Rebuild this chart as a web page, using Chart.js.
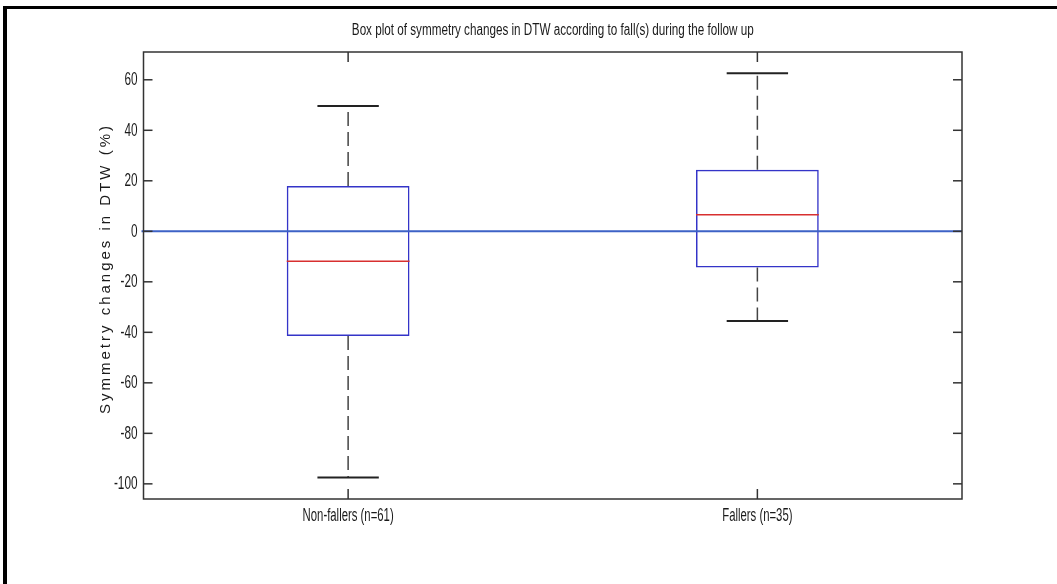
<!DOCTYPE html>
<html>
<head>
<meta charset="utf-8">
<script src="https://cdn.jsdelivr.net/npm/chart.js@4/dist/chart.umd.min.js"></script>
<style>
  body { margin: 0; background: #fff; }
  #wrap { position: relative; width: 1057px; height: 584px; overflow: hidden; }
  #frame {
    position: absolute; left: 3px; top: 6px; width: 1100px; height: 700px;
    border-left: 4px solid #000; border-top: 3px solid #000; pointer-events: none;
  }
</style>
</head>
<body>
<div id="wrap">
  <canvas id="symmetry-box-chart" width="1057" height="584"></canvas>
  <div id="frame"></div>
</div>
<script>
var chartTitle = 'Box plot of symmetry changes in DTW according to fall(s) during the follow up';
var yAxisTitle = 'Symmetry changes in DTW (%)';
var categories = ['Non-fallers (n=61)', 'Fallers (n=35)'];
var lowerWhisker = [-97.5, -35.5];
var lowerQuartile = [-41.5, -14.3];
var medians = [-11.9, 6.6];
var upperQuartile = [17.9, 24.4];
var upperWhisker = [49.6, 62.6];
var yTicks = [-100, -80, -60, -40, -20, 0, 20, 40, 60];

var ctx = document.getElementById('symmetry-box-chart');

function line(c, x1, y1, x2, y2) {
  c.beginPath();
  c.moveTo(x1, y1);
  c.lineTo(x2, y2);
  c.stroke();
}

// matlab export text is tall and narrow, squeeze it horizontally
function narrowText(c, text, x, y, size, align, squeeze) {
  c.save();
  c.font = size + 'px "Liberation Sans", Arial, sans-serif';
  c.textAlign = align;
  c.textBaseline = 'middle';
  c.translate(x, y);
  c.scale(squeeze, 1);
  c.fillText(text, 0, 0);
  c.restore();
}

var boxPlotParts = {
  id: 'boxPlotParts',
  afterDatasetsDraw: function(chart) {
    var c = chart.ctx;
    var area = chart.chartArea;
    var x = chart.scales.x;
    var y = chart.scales.y;
    var boxes = chart.getDatasetMeta(0).data;
    c.save();

    c.strokeStyle = '#3d62c6';
    c.lineWidth = 2;
    line(c, area.left - 2, y.getPixelForValue(0), area.right, y.getPixelForValue(0));

    categories.forEach(function(cat, i) {
      var cx = x.getPixelForValue(i);
      var half = boxes[i].width / 4;

      c.strokeStyle = '#444';
      c.lineWidth = 1.5;
      c.setLineDash([14, 6]);
      line(c, cx, y.getPixelForValue(upperQuartile[i]), cx, y.getPixelForValue(upperWhisker[i]));
      line(c, cx, y.getPixelForValue(lowerQuartile[i]), cx, y.getPixelForValue(lowerWhisker[i]));
      c.setLineDash([]);

      c.strokeStyle = '#222';
      c.lineWidth = 2;
      line(c, cx - half, y.getPixelForValue(upperWhisker[i]), cx + half, y.getPixelForValue(upperWhisker[i]));
      line(c, cx - half, y.getPixelForValue(lowerWhisker[i]), cx + half, y.getPixelForValue(lowerWhisker[i]));

      c.strokeStyle = '#d83030';
      c.lineWidth = 1.5;
      line(c, cx - boxes[i].width / 2, y.getPixelForValue(medians[i]), cx + boxes[i].width / 2, y.getPixelForValue(medians[i]));
    });
    c.restore();
  },
  afterDraw: function(chart) {
    var c = chart.ctx;
    var area = chart.chartArea;
    var x = chart.scales.x;
    var y = chart.scales.y;
    c.save();

    c.strokeStyle = '#333';
    c.lineWidth = 1.5;
    c.strokeRect(area.left, area.top, area.right - area.left, area.bottom - area.top);
    c.fillStyle = '#1a1a1a';
    y.ticks.forEach(function(t) {
      var py = y.getPixelForValue(t.value);
      line(c, area.left, py, area.left + 9, py);
      line(c, area.right - 9, py, area.right, py);
      narrowText(c, String(t.value), area.left - 6, py, 19, 'right', 0.62);
    });
    categories.forEach(function(cat, i) {
      var px = x.getPixelForValue(i);
      line(c, px, area.top, px, area.top + 10);
      line(c, px, area.bottom - 10, px, area.bottom);
      narrowText(c, cat, px, area.bottom + 17, 18, 'center', 0.63);
    });

    narrowText(c, chartTitle, (area.left + area.right) / 2, 31, 16, 'center', 0.73);

    c.font = '15px "Liberation Sans", Arial, sans-serif';
    c.letterSpacing = '3px';
    c.textAlign = 'center';
    c.textBaseline = 'middle';
    c.translate(106, (area.top + area.bottom) / 2 - 7);
    c.rotate(-Math.PI / 2);
    c.fillText(yAxisTitle, 0, 0);
    c.restore();
  }
};

var symmetryBoxChart = new Chart(ctx, {
  type: 'bar',
  data: {
    labels: categories,
    datasets: [
      {
        data: categories.map(function(cat, i) { return [lowerQuartile[i], upperQuartile[i]]; }),
        backgroundColor: 'rgba(0,0,0,0)',
        borderColor: '#3434c8',
        borderWidth: 1.5,
        borderSkipped: false,
        barPercentage: 0.3,
        categoryPercentage: 1
      }
    ]
  },
  options: {
    responsive: false,
    animation: false,
    events: [],
    layout: {
      padding: { left: 0, top: 52, right: 95, bottom: 85 }
    },
    plugins: {
      legend: { display: false },
      tooltip: { enabled: false },
      title: { display: false }
    },
    scales: {
      x: {
        grid: { display: false, drawTicks: false },
        border: { display: false },
        ticks: { display: false }
      },
      y: {
        min: -106,
        max: 71,
        afterBuildTicks: function(scale) {
          scale.ticks = yTicks.map(function(v) { return { value: v }; });
        },
        afterFit: function(scale) {
          scale.width = 143.5;
        },
        grid: { display: false, drawTicks: false },
        border: { display: false },
        ticks: { display: false }
      }
    }
  },
  plugins: [boxPlotParts]
});
</script>
</body>
</html>
